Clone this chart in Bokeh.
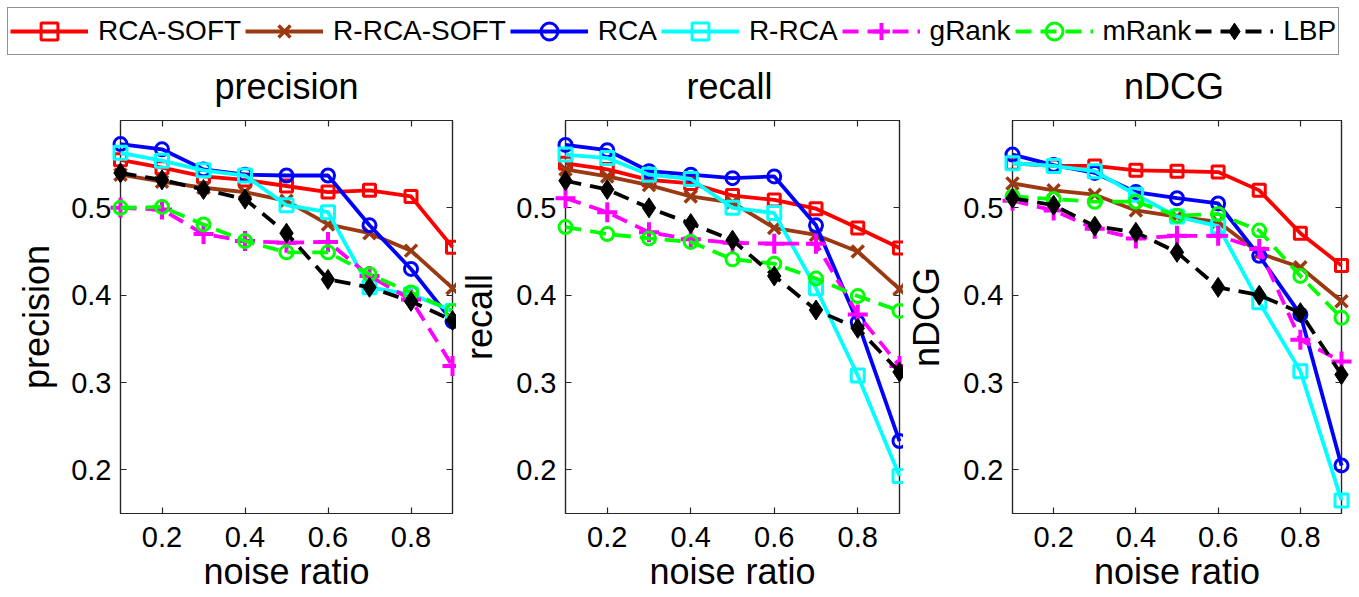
from bokeh.plotting import figure
from bokeh.models import Range1d, FixedTicker, LinearAxis, Legend, LegendItem, Label
from bokeh.layouts import column, row
from bokeh.embed import file_html
from bokeh.resources import INLINE

# ---------------- data ----------------
NOISE = [0.1, 0.2, 0.3, 0.4, 0.5, 0.6, 0.7, 0.8, 0.9]
X_RANGE = (0.1, 0.9)
Y_RANGE = (0.15, 0.6)
X_TICKS = [0.2, 0.4, 0.6, 0.8]
Y_TICKS = [0.2, 0.3, 0.4, 0.5]
SERIES = ["RCA-SOFT", "R-RCA-SOFT", "RCA", "R-RCA", "gRank", "mRank", "LBP"]
PANELS = ["precision", "recall", "nDCG"]

# precision
RCA_SOFT_P = [0.555, 0.546, 0.536, 0.532, 0.525, 0.518, 0.520, 0.513, 0.455]
R_RCA_SOFT_P = [0.538, 0.530, 0.523, 0.518, 0.508, 0.481, 0.471, 0.451, 0.408]
RCA_P = [0.573, 0.567, 0.544, 0.538, 0.537, 0.537, 0.480, 0.430, 0.370]
R_RCA_P = [0.563, 0.554, 0.543, 0.537, 0.503, 0.495, 0.409, 0.401, 0.382]
GRANK_P = [0.500, 0.498, 0.470, 0.462, 0.460, 0.461, 0.422, 0.395, 0.319]
MRANK_P = [0.500, 0.501, 0.481, 0.462, 0.449, 0.449, 0.424, 0.403, 0.382]
LBP_P = [0.540, 0.532, 0.521, 0.510, 0.471, 0.418, 0.409, 0.393, 0.371]

# recall
RCA_SOFT_R = [0.551, 0.544, 0.532, 0.528, 0.514, 0.509, 0.499, 0.477, 0.454]
R_RCA_SOFT_R = [0.544, 0.536, 0.526, 0.513, 0.506, 0.477, 0.469, 0.450, 0.407]
RCA_R = [0.572, 0.566, 0.542, 0.538, 0.534, 0.536, 0.480, 0.369, 0.233]
R_RCA_R = [0.561, 0.557, 0.538, 0.533, 0.500, 0.494, 0.408, 0.308, 0.193]
GRANK_R = [0.511, 0.495, 0.472, 0.464, 0.460, 0.459, 0.459, 0.378, 0.319]
MRANK_R = [0.478, 0.470, 0.465, 0.461, 0.441, 0.436, 0.419, 0.399, 0.382]
LBP_R = [0.531, 0.521, 0.500, 0.482, 0.463, 0.422, 0.383, 0.362, 0.312]

# nDCG
RCA_SOFT_N = [0.551, 0.548, 0.548, 0.543, 0.542, 0.541, 0.520, 0.471, 0.434]
R_RCA_SOFT_N = [0.528, 0.520, 0.515, 0.497, 0.490, 0.484, 0.448, 0.432, 0.393]
RCA_N = [0.561, 0.549, 0.540, 0.518, 0.511, 0.505, 0.445, 0.378, 0.205]
R_RCA_N = [0.551, 0.548, 0.542, 0.515, 0.490, 0.479, 0.392, 0.313, 0.165]
GRANK_N = [0.508, 0.497, 0.476, 0.465, 0.468, 0.468, 0.453, 0.349, 0.324]
MRANK_N = [0.513, 0.510, 0.507, 0.507, 0.491, 0.493, 0.474, 0.422, 0.374]
LBP_N = [0.511, 0.503, 0.479, 0.472, 0.449, 0.409, 0.400, 0.380, 0.309]

DATA = {
    "precision": [RCA_SOFT_P, R_RCA_SOFT_P, RCA_P, R_RCA_P, GRANK_P, MRANK_P, LBP_P],
    "recall": [RCA_SOFT_R, R_RCA_SOFT_R, RCA_R, R_RCA_R, GRANK_R, MRANK_R, LBP_R],
    "nDCG": [RCA_SOFT_N, R_RCA_SOFT_N, RCA_N, R_RCA_N, GRANK_N, MRANK_N, LBP_N],
}

# ---------------- styles ----------------
FONT = "Liberation Sans"
AX = "#262626"
STYLES = [
    dict(color="#FF0000", dash="solid", marker="square", size=12, mlw=3, fill=None),
    dict(color="#9B3A12", dash="solid", marker="x", size=17, mlw=3.5, fill=None),
    dict(color="#0000FF", dash="solid", marker="circle", size=13, mlw=3, fill=None),
    dict(color="#00FFFF", dash="solid", marker="square", size=13, mlw=3, fill=None),
    dict(color="#FF00FF", dash="16 9", marker="cross", size=20, mlw=4, fill=None),
    dict(color="#00FF00", dash="16 9", marker="circle", size=13, mlw=3, fill=None),
    dict(color="#000000", dash="16 9", marker="diamond", size=20, mlw=1, fill="#000000"),
]
LINE_W = 3.8

# layout geometry per panel: (width, left border, right border)
PAGE_W, PAGE_H = 1359, 597
GEOM = [(456, 120, 4), (447, 103, 4), (456, 103, 18)]
LEFT_STANDOFF = [11, 13, 13]
HEAD_H = 108          # strip holding the legend and the panel titles
TITLE_BASELINE = 86   # from the top of the strip
TOP_B = 12
FRAME_H = 393
FIG_H = PAGE_H - HEAD_H
BOT_B = FIG_H - TOP_B - FRAME_H


def draw_series(p, xs, ys, st, level=None, **extra):
    kw = dict(extra)
    if level is not None:
        kw["level"] = level
    rl = p.line(xs, ys, line_color=st["color"], line_width=LINE_W,
                line_dash=st["dash"], **kw)
    rm = p.scatter(xs, ys, marker=st["marker"], size=st["size"],
                   line_color=st["color"], line_width=st["mlw"],
                   fill_color=st["fill"], **kw)
    return rl, rm


def style_axis(ax, ticks):
    ax.ticker = FixedTicker(ticks=ticks)
    ax.major_tick_in = 6
    ax.major_tick_out = 0
    ax.minor_tick_line_color = None
    ax.axis_line_color = AX
    ax.axis_line_width = 1.2
    ax.major_tick_line_color = AX
    ax.major_tick_line_width = 1.2
    ax.major_label_text_font = FONT
    ax.major_label_text_font_size = "29px"
    ax.major_label_text_color = "#000000"
    ax.axis_label_text_font = FONT
    ax.axis_label_text_font_size = "36px"
    ax.axis_label_text_font_style = "normal"
    ax.axis_label_text_color = "#000000"


panels = []
for i, name in enumerate(PANELS):
    w, bl, br = GEOM[i]
    p = figure(width=w, height=FIG_H, x_range=Range1d(*X_RANGE),
               y_range=Range1d(*Y_RANGE), output_backend="svg",
               toolbar_location=None,
               min_border_left=bl, min_border_right=br,
               min_border_top=TOP_B, min_border_bottom=BOT_B)
    p.grid.visible = False
    p.outline_line_color = AX
    p.outline_line_width = 1.2
    p.background_fill_color = "white"
    p.border_fill_color = "white"

    style_axis(p.xaxis[0], X_TICKS)
    style_axis(p.yaxis[0], Y_TICKS)
    p.xaxis[0].axis_label = "noise ratio"
    p.xaxis[0].major_label_standoff = 13
    p.xaxis[0].axis_label_standoff = 1
    p.yaxis[0].axis_label = name
    p.yaxis[0].major_label_standoff = 9
    p.yaxis[0].axis_label_standoff = LEFT_STANDOFF[i]

    # box-style ticks on top and right, without labels
    top = LinearAxis()
    style_axis(top, X_TICKS)
    top.major_label_text_font_size = "0px"
    top.major_label_text_color = None
    top.major_label_standoff = 0
    p.add_layout(top, "above")
    right = LinearAxis()
    style_axis(right, Y_TICKS)
    right.major_label_text_font_size = "0px"
    right.major_label_text_color = None
    right.major_label_standoff = 0
    p.add_layout(right, "right")

    for ys, st in zip(DATA[name], STYLES):
        draw_series(p, NOISE, ys, st, level="overlay")
    panels.append(p)

# ---------------- header strip: legend + panel titles ----------------
# pixel-like coordinates (y grows downward) for the title placement
head = figure(width=PAGE_W, height=HEAD_H, x_range=Range1d(0, PAGE_W),
              y_range=Range1d(HEAD_H, 0), output_backend="svg",
              toolbar_location=None, min_border=0,
              x_axis_location=None, y_axis_location=None)
head.outline_line_color = None
for g in head.grid:
    g.grid_line_color = None
head.extra_x_ranges = {"off": Range1d(-2, -1)}
head.extra_y_ranges = {"off": Range1d(-2, -1)}

items = []
for label, ys, st in zip(SERIES, DATA["precision"], STYLES):
    # real data, drawn on ranges that keep it out of sight; used for legend glyphs
    rl, rm = draw_series(head, NOISE, ys, st, x_range_name="off", y_range_name="off")
    items.append(LegendItem(label=label, renderers=[rl, rm]))
legend = Legend(items=items, orientation="horizontal", location="top_left",
                margin=7, padding=2, spacing=4, glyph_width=78, glyph_height=42,
                label_standoff=10, label_text_font=FONT, label_text_font_size="28px",
                label_text_color="#000000",
                border_line_color=AX, border_line_width=1.5,
                background_fill_color="white", background_fill_alpha=1.0)
head.add_layout(legend)

x0 = 0
for (w, bl, br), name in zip(GEOM, PANELS):
    cx = x0 + bl + (w - bl - br) / 2
    head.add_layout(Label(x=cx, y=TITLE_BASELINE, text=name, text_align="center",
                          text_baseline="alphabetic", text_font=FONT,
                          text_font_size="36px", text_color="#000000"))
    x0 += w

layout = column(head, row(*panels))
open("out.html", "w").write(file_html(layout, INLINE))
